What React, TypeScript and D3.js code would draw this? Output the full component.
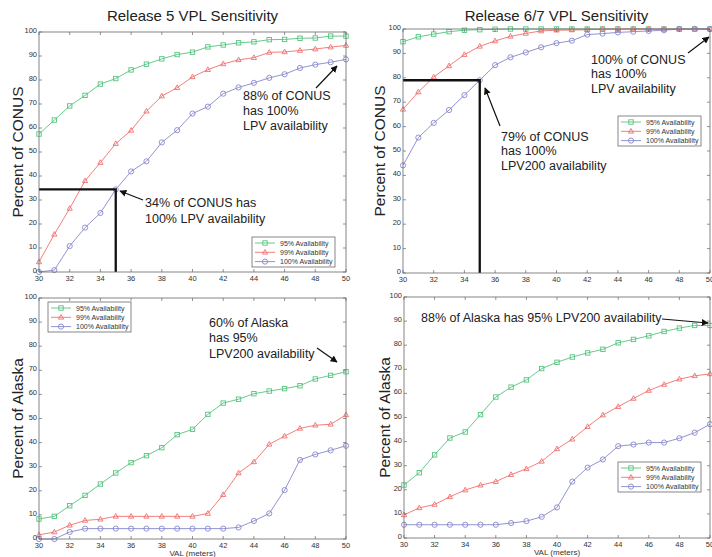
import React from "react";
import * as d3 from "d3";

const valMeters = d3.range(30, 51);
const xTicks = [30, 32, 34, 36, 38, 40, 42, 44, 46, 48, 50];
const yTicks = [0, 10, 20, 30, 40, 50, 60, 70, 80, 90, 100];
const seriesNames = ["95% Availability", "99% Availability", "100% Availability"];

// Release 5, CONUS
const r5Conus95 = [57.5, 63.3, 69.2, 73.6, 78.3, 80.6, 84.2, 86.6, 88.8, 90.6, 91.6, 93.8, 94.6, 95.5, 95.9, 96.8, 96.9, 97.4, 97.5, 98.3, 98.3];
const r5Conus99 = [4.2, 15.7, 26.5, 38, 45.6, 53.5, 59, 67, 73.3, 76.8, 81.3, 84.3, 86.7, 88.4, 89.3, 91.5, 91.7, 92.3, 92.9, 93.7, 94.4];
const r5Conus100 = [0, 0.8, 10.8, 18.5, 24.6, 34.4, 41.9, 46.1, 54, 59.1, 66, 68.9, 74.3, 76.9, 78.8, 80.9, 82.4, 85, 86.4, 87.4, 88.6];

// Release 6/7, CONUS
const r67Conus95 = [94.8, 96.8, 97.9, 98.9, 99.5, 99.7, 99.9, 100, 100, 100, 100, 100, 100, 100, 100, 100, 100, 100, 100, 100, 100];
const r67Conus99 = [67.1, 74.2, 80.3, 84.9, 89.5, 92.9, 95.1, 97, 98.2, 99.2, 99.5, 99.6, 99.7, 99.9, 100, 100, 100, 100, 100, 100, 100];
const r67Conus100 = [44.1, 55.5, 61.5, 66.8, 72.9, 79, 85.2, 88.4, 90.4, 92.5, 94.2, 95.2, 97.7, 98.1, 98.6, 98.9, 99.2, 99.5, 100, 100, 100];

// Release 5, Alaska
const r5Alaska95 = [8.3, 9.4, 13.8, 18.1, 22.8, 27.4, 31.7, 34.6, 37.9, 43.3, 45.5, 51.7, 56.4, 58, 60.3, 61.4, 62.4, 63.6, 66.4, 67.9, 69.4];
const r5Alaska99 = [1.7, 2.9, 5.7, 7.7, 8.2, 9.4, 9.4, 9.4, 9.4, 9.4, 9.4, 10.6, 18.4, 27.4, 32, 39.3, 42.7, 45.9, 47.2, 47.6, 51.5];
const r5Alaska100 = [0, 0, 2.9, 4.3, 4.3, 4.3, 4.3, 4.3, 4.3, 4.3, 4.3, 4.3, 4.3, 4.8, 7.5, 10.6, 20.3, 32.8, 35.1, 36.8, 38.7];

// Release 6/7, Alaska
const r67Alaska95 = [22, 27.1, 34.5, 41.5, 44, 51.2, 58.5, 62.6, 65.6, 70.3, 72.9, 75.1, 76.8, 78.3, 81, 82.4, 83.9, 85.7, 87.1, 88.2, 88.2];
const r67Alaska99 = [9.6, 12.5, 13.9, 17.1, 19.9, 21.9, 23.4, 26.3, 28.7, 31.8, 37, 41, 46.2, 51, 54.5, 57.9, 61.2, 63.7, 65.9, 67.3, 68.1];
const r67Alaska100 = [5.5, 5.5, 5.5, 5.5, 5.5, 5.5, 5.5, 6.2, 7, 8.8, 12.7, 23.4, 29.2, 32.6, 38.1, 38.8, 39.6, 39.6, 41.4, 43.7, 47.2];

const colors = ["#55c47f", "#f06f6f", "#8787cc"];
const font = "'Liberation Sans', Arial, sans-serif";

type Note = { lines: string[]; x: number; y: number; lh: number; arrow: [number, number, number, number] };

type PanelProps = {
  x0: number; x1: number; y0: number; y1: number;
  series: number[][];
  title?: string;
  yLabel: string;
  yLabelX: number;
  xLabel?: string;
  legend: [number, number];
  guide?: [number, number];
  notes: Note[];
};

function Marker({ kind, x, y, color }: { kind: number; x: number; y: number; color: string }) {
  if (kind === 0) return <rect x={x - 2.2} y={y - 2.2} width={4.4} height={4.4} fill="none" stroke={color} strokeWidth={0.9} />;
  if (kind === 1) {
    const p = `${x},${y - 2.8} ${x - 2.6},${y + 1.8} ${x + 2.6},${y + 1.8}`;
    return <polygon points={p} fill="none" stroke={color} strokeWidth={0.9} />;
  }
  return <circle cx={x} cy={y} r={2.6} fill="none" stroke={color} strokeWidth={0.9} />;
}

function Panel(p: PanelProps) {
  const xs = d3.scaleLinear().domain([30, 50]).range([p.x0, p.x1]);
  const ys = d3.scaleLinear().domain([0, 100]).range([p.y1, p.y0]);
  const line = d3.line<number>().x((_, i) => xs(valMeters[i])).y((v) => ys(v));
  const [lx, ly] = p.legend;
  return (
    <g fontFamily={font}>
      {p.series.map((s, k) => (
        <g key={k}>
          <path d={line(s) || ""} fill="none" stroke={colors[k]} strokeWidth={0.9} />
          {s.map((v, i) => (
            <Marker key={i} kind={k} x={xs(valMeters[i])} y={ys(v)} color={colors[k]} />
          ))}
        </g>
      ))}
      {p.guide && (
        <path
          d={`M${xs(30)},${ys(p.guide[1])} H${xs(p.guide[0])} V${ys(0)}`}
          fill="none" stroke="#111" strokeWidth={2.3}
        />
      )}
      <rect x={p.x0} y={p.y0} width={p.x1 - p.x0} height={p.y1 - p.y0} fill="none" stroke="#666" strokeWidth={0.8} />
      {xTicks.map((t) => (
        <g key={t}>
          <line x1={xs(t)} x2={xs(t)} y1={p.y1} y2={p.y1 - 3} stroke="#666" strokeWidth={0.7} />
          <line x1={xs(t)} x2={xs(t)} y1={p.y0} y2={p.y0 + 3} stroke="#666" strokeWidth={0.7} />
          <text x={xs(t)} y={p.y1 + 9} fontSize={7.5} fill="#333" textAnchor="middle">{t}</text>
        </g>
      ))}
      {yTicks.map((t) => (
        <g key={t}>
          <line x1={p.x0} x2={p.x0 + 3} y1={ys(t)} y2={ys(t)} stroke="#666" strokeWidth={0.7} />
          <line x1={p.x1} x2={p.x1 - 3} y1={ys(t)} y2={ys(t)} stroke="#666" strokeWidth={0.7} />
          <text x={p.x0 - 2} y={ys(t) + 1} fontSize={7.5} fill="#333" textAnchor="end">{t}</text>
        </g>
      ))}
      {p.title && (
        <text x={(p.x0 + p.x1) / 2} y={21} fontSize={15} fill="#222" textAnchor="middle">{p.title}</text>
      )}
      <text
        transform={`translate(${p.yLabelX},${(p.y0 + p.y1) / 2}) rotate(-90)`}
        fontSize={15.5} fill="#222" textAnchor="middle" dy="0.35em"
      >{p.yLabel}</text>
      {p.xLabel && (
        <text x={(p.x0 + p.x1) / 2} y={p.y1 + 17} fontSize={8} fill="#333" textAnchor="middle">{p.xLabel}</text>
      )}
      <rect x={lx} y={ly} width={83} height={30} fill="#fff" stroke="#555" strokeWidth={0.7} />
      {seriesNames.map((n, k) => {
        const yy = ly + 6 + k * 9.3;
        return (
          <g key={n}>
            <line x1={lx + 3} x2={lx + 23} y1={yy} y2={yy} stroke={colors[k]} strokeWidth={0.9} />
            <Marker kind={k} x={lx + 13} y={yy} color={colors[k]} />
            <text x={lx + 28} y={yy + 2.5} fontSize={7} fill="#333">{n}</text>
          </g>
        );
      })}
      {p.notes.map((n, i) => (
        <g key={i}>
          {n.lines.map((l, j) => (
            <text key={j} x={n.x} y={n.y + j * n.lh} fontSize={12.5} fill="#222">{l}</text>
          ))}
          <line
            x1={n.arrow[0]} y1={n.arrow[1]} x2={n.arrow[2]} y2={n.arrow[3]}
            stroke="#111" strokeWidth={1.2} markerEnd="url(#arrowHead)"
          />
        </g>
      ))}
    </g>
  );
}

export default function App() {
  return (
    <svg width={712} height={557} style={{ display: "block", position: "absolute", left: 0, top: 0, background: "#fff" }}>
      <defs>
        <marker id="arrowHead" viewBox="0 0 10 10" refX={9} refY={5} markerWidth={7} markerHeight={7} orient="auto" markerUnits="userSpaceOnUse">
          <path d="M0,0 L10,5 L0,10 z" fill="#111" />
        </marker>
      </defs>
      <rect width={712} height={557} fill="#fff" />
      <Panel
        x0={39} x1={346} y0={32} y1={272}
        series={[r5Conus95, r5Conus99, r5Conus100]}
        title="Release 5 VPL Sensitivity"
        yLabel="Percent of CONUS" yLabelX={18}
        legend={[252, 237]}
        guide={[35, 34.4]}
        notes={[
          { lines: ["34% of CONUS has", "100% LPV availability"], x: 145, y: 207, lh: 16, arrow: [143, 200, 120, 191] },
          { lines: ["88% of CONUS", "has 100%", "LPV availability"], x: 243, y: 100, lh: 14.8, arrow: [316, 88, 337, 66] },
        ]}
      />
      <Panel
        x0={403} x1={710} y0={29} y1={273}
        series={[r67Conus95, r67Conus99, r67Conus100]}
        title="Release 6/7 VPL Sensitivity"
        yLabel="Percent of CONUS" yLabelX={380}
        legend={[618, 116]}
        guide={[35, 79]}
        notes={[
          { lines: ["79% of CONUS", "has 100%", "LPV200 availability"], x: 501, y: 141, lh: 14.3, arrow: [500, 126, 485, 88] },
          { lines: ["100% of CONUS", "has 100%", "LPV availability"], x: 591, y: 64, lh: 14.3, arrow: [688, 53, 709, 37] },
        ]}
      />
      <Panel
        x0={39} x1={346} y0={298} y1={539}
        series={[r5Alaska95, r5Alaska99, r5Alaska100]}
        yLabel="Percent of Alaska" yLabelX={18}
        xLabel="VAL (meters)"
        legend={[48, 302]}
        notes={[
          { lines: ["60% of Alaska", "has 95%", "LPV200 availability"], x: 209, y: 327, lh: 15.3, arrow: [317, 348, 337, 362] },
        ]}
      />
      <Panel
        x0={404} x1={710} y0={297} y1={538}
        series={[r67Alaska95, r67Alaska99, r67Alaska100]}
        yLabel="Percent of Alaska" yLabelX={385}
        xLabel="VAL (meters)"
        legend={[618, 462]}
        notes={[
          { lines: ["88% of Alaska has 95% LPV200 availability"], x: 421, y: 322, lh: 15, arrow: [662, 319, 708, 323] },
        ]}
      />
    </svg>
  );
}
